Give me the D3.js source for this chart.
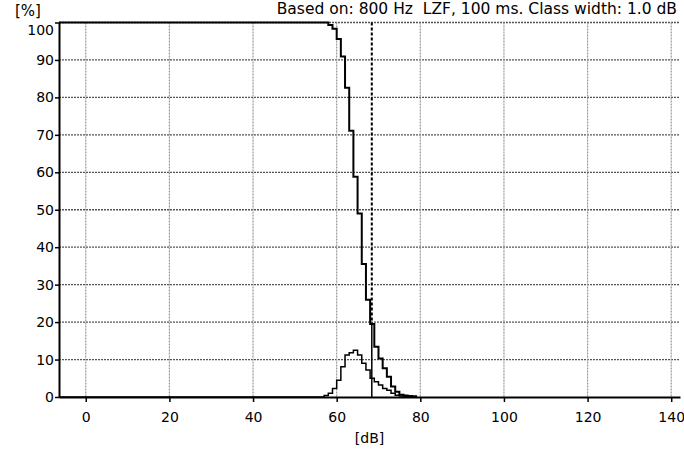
<!DOCTYPE html>
<html>
<head>
<meta charset="utf-8">
<script src="https://cdn.jsdelivr.net/npm/d3@7"></script>
<style>
  html, body { margin: 0; padding: 0; background: #fff; }
  svg { display: block; }
  text { font-family: "DejaVu Sans", Verdana, sans-serif; fill: #000; }
</style>
</head>
<body>
<svg id="chart" width="684" height="449"></svg>
<script>
// ---- data (class lower edge in dB, class width 1.0 dB) ----
const levels = [57, 58, 59, 60, 61, 62, 63, 64, 65, 66, 67, 68, 69, 70, 71, 72, 73, 74, 75, 76, 77, 78, 79];
const distribution = [0.4, 1.0, 2.3, 4.5, 8.1, 11.2, 11.8, 12.5, 11.2, 9.0, 7.2, 5.0, 4.1, 3.2, 2.3, 1.8, 1.0, 0.5, 0.3, 0.2, 0.2, 0.1, 0];
const cumulative   = [100, 99.3, 98.3, 95.6, 90.9, 82.6, 71.1, 58.8, 49.0, 35.5, 26.0, 19.5, 13.4, 10.3, 7.7, 5.4, 2.8, 1.4, 0.6, 0.4, 0.3, 0.2, 0];
const cursorLevel = 68.4;
const xTicks = [0, 20, 40, 60, 80, 100, 120, 140];
const yTicks = [0, 10, 20, 30, 40, 50, 60, 70, 80, 90, 100];
const xDomain = [-6.4, 142.1];
const title = "Based on: 800 Hz  LZF, 100 ms. Class width: 1.0 dB";
const xLabel = "[dB]";
const yLabel = "[%]";

(function () {
// ---- layout ----
const svg = d3.select("#chart");
const mLeft = 59, mRight = 680, mTop = 22.5, mBottom = 397;
const x = d3.scaleLinear().domain(xDomain).range([mLeft, mRight]);
const y = d3.scaleLinear().domain([0, 100]).range([mBottom, mTop]);

// grid
const grid = svg.append("g");
grid.selectAll("line.h").data(yTicks.filter(d => d > 0)).join("line")
  .attr("x1", mLeft).attr("x2", mRight)
  .attr("y1", d => y(d)).attr("y2", d => y(d))
  .attr("stroke", "#555").attr("stroke-width", 1.3).attr("stroke-dasharray", "2,1");
grid.selectAll("line.v").data(xTicks).join("line")
  .attr("x1", d => x(d)).attr("x2", d => x(d))
  .attr("y1", mTop).attr("y2", mBottom)
  .attr("stroke", "#999").attr("stroke-width", 1.2).attr("stroke-dasharray", "2,1");

// axes
const yAxis = svg.append("g").attr("transform", `translate(${mLeft},0)`)
  .call(d3.axisLeft(y).tickValues(yTicks).tickSize(4).tickPadding(1).tickSizeOuter(0));
const xAxis = svg.append("g").attr("transform", `translate(0,${mBottom})`)
  .call(d3.axisBottom(x).tickValues(xTicks).tickSize(5).tickPadding(10).tickSizeOuter(0));
[xAxis, yAxis].forEach(a => {
  a.select(".domain").attr("stroke", "#000").attr("stroke-width", 2);
  a.selectAll(".tick line").attr("stroke", "#000").attr("stroke-width", 1.5);
  a.selectAll(".tick text").style("font-family", "DejaVu Sans, Verdana, sans-serif")
    .style("font-size", "14px").attr("fill", "#000");
});
// the "100" label sits lower, below the [%] caption
yAxis.selectAll(".tick text").filter(d => d === 100).attr("dy", "0.85em");

// curves
const stepLine = d3.line().x(d => x(d[0])).y(d => y(d[1])).curve(d3.curveStepAfter);
const cumPts = [[xDomain[0], 100]].concat(levels.map((l, i) => [l, cumulative[i]]));
const distPts = [[xDomain[0], 0]].concat(levels.map((l, i) => [l, distribution[i]]));

svg.append("path").attr("d", stepLine(distPts))
  .attr("fill", "none").attr("stroke", "#000").attr("stroke-width", 1.5);
svg.append("path").attr("d", stepLine(cumPts))
  .attr("fill", "none").attr("stroke", "#000").attr("stroke-width", 2);

// cursor: dashed above the cumulative curve, solid below it
const ci = d3.bisectRight(levels, cursorLevel) - 1;
const cursorVal = cumulative[ci];
svg.append("line")
  .attr("x1", x(cursorLevel)).attr("x2", x(cursorLevel))
  .attr("y1", y(100)).attr("y2", y(cursorVal))
  .attr("stroke", "#000").attr("stroke-width", 2).attr("stroke-dasharray", "3,2");
svg.append("line")
  .attr("x1", x(cursorLevel)).attr("x2", x(cursorLevel))
  .attr("y1", y(cursorVal)).attr("y2", y(0))
  .attr("stroke", "#000").attr("stroke-width", 1.5);

// texts
svg.append("text").attr("x", 677).attr("y", 14).attr("text-anchor", "end")
  .style("font-size", "15.5px").style("white-space", "pre").text(title);
svg.append("text").attr("x", 15).attr("y", 16)
  .style("font-size", "15px").text(yLabel);
svg.append("text").attr("x", (mLeft + mRight) / 2).attr("y", 443).attr("text-anchor", "middle")
  .style("font-size", "14px").text(xLabel);
})();
</script>
</body>
</html>
